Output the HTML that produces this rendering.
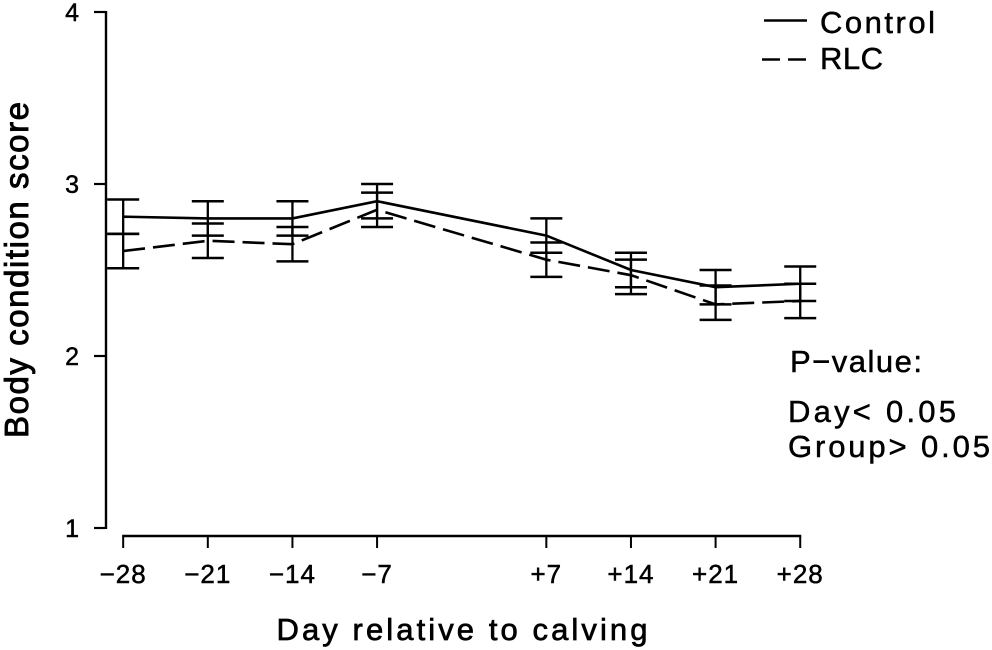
<!DOCTYPE html>
<html lang="en">
<head>
<meta charset="utf-8">
<title>Body condition score</title>
<style>
html,body{margin:0;padding:0;background:#fff;}
svg{display:block;}
text{font-family:"Liberation Sans",Arial,sans-serif;fill:#000;stroke:#000;stroke-width:0.5px;}
</style>
</head>
<body>
<svg id="chart" xmlns="http://www.w3.org/2000/svg" width="992" height="650" viewBox="0 0 992 650">
  <g id="axes"></g>
  <g id="marks"></g>
  <text transform="translate(28,270) rotate(-90)" text-anchor="middle" font-size="33" style="stroke-width:0.9px" textLength="336" lengthAdjust="spacing">Body condition score</text>
  <text x="462" y="640" text-anchor="middle" font-size="31" style="stroke-width:0.7px" textLength="371" lengthAdjust="spacing">Day relative to calving</text>
  <g>
    <line x1="764" y1="20.5" x2="807" y2="20.5" stroke="#000" stroke-width="2.4"/>
    <text x="820" y="33" font-size="31" textLength="115" lengthAdjust="spacing">Control</text>
    <line x1="762" y1="59.5" x2="806" y2="59.5" stroke="#000" stroke-width="2.4" stroke-dasharray="18 8"/>
    <text x="820" y="69" font-size="31" textLength="63" lengthAdjust="spacing">RLC</text>
  </g>
  <g>
    <text x="790" y="372" font-size="31" textLength="132" lengthAdjust="spacing">P−value:</text>
    <text x="788" y="422" font-size="31" textLength="168" lengthAdjust="spacing">Day&lt; 0.05</text>
    <text x="788" y="457" font-size="31" textLength="202" lengthAdjust="spacing">Group&gt; 0.05</text>
  </g>
</svg>
<script>
const days = [-28, -21, -14, -7, 7, 14, 21, 28];
const dayLabels = ["−28", "−21", "−14", "−7", "+7", "+14", "+21", "+28"];
const yTicks = [1, 2, 3, 4];
const controlValues = [2.81, 2.80, 2.80, 2.90, 2.70, 2.50, 2.40, 2.42];
const controlUpper = [2.91, 2.90, 2.90, 3.00, 2.80, 2.60, 2.50, 2.52];
const controlLower = [2.71, 2.70, 2.70, 2.80, 2.60, 2.40, 2.30, 2.32];
const rlcValues = [2.61, 2.67, 2.65, 2.85, 2.56, 2.47, 2.30, 2.32];
const rlcUpper = [2.71, 2.77, 2.75, 2.95, 2.66, 2.56, 2.41, 2.42];
const rlcLower = [2.51, 2.57, 2.55, 2.75, 2.46, 2.36, 2.21, 2.22];

const NS = "http://www.w3.org/2000/svg";
const COLOR = "#000";
function xScale(d) { return 461.7 + d * 12.09; }
function yScale(v) { return 528 - (v - 1) * 172; }
function makeLine(parent, x1, y1, x2, y2, w) {
  const l = document.createElementNS(NS, "line");
  l.setAttribute("x1", x1);
  l.setAttribute("y1", y1);
  l.setAttribute("x2", x2);
  l.setAttribute("y2", y2);
  l.setAttribute("stroke", COLOR);
  l.setAttribute("stroke-width", w);
  parent.appendChild(l);
  return l;
}
const axes = document.getElementById("axes");
const marks = document.getElementById("marks");

const yAxisLine = makeLine(axes, 106, yScale(4) - 1, 106, yScale(1) + 1, 2.4);


const xAxisLine = makeLine(axes, xScale(days[0]) - 1, 536, xScale(days[days.length - 1]) + 1, 536, 2.4);



yTicks.forEach(function (t) {
  const tick = makeLine(axes, 94, yScale(t), 106, yScale(t), 2.2);
  
  
  const label = document.createElementNS(NS, "text");
  
  
  label.setAttribute("x", 79);
  label.setAttribute("y", yScale(t) + 9);
  label.setAttribute("text-anchor", "end");
  label.setAttribute("font-size", "25");
  label.textContent = String(t);
  axes.appendChild(label);
});

days.forEach(function (d, i) {
  const x = xScale(d);
  const tick = makeLine(axes, x, 536, x, 548, 2);
  
  
  const label = document.createElementNS(NS, "text");
  
  
  label.setAttribute("x", x);
  label.setAttribute("y", 583);
  label.setAttribute("text-anchor", "middle");
  label.setAttribute("font-size", "26");
  label.setAttribute("letter-spacing", "1");
  label.textContent = dayLabels[i];
  axes.appendChild(label);
});

function drawErrorBars(upper, lower, prefix) {
  days.forEach(function (d, i) {
    const x = xScale(d);
    const stem = makeLine(marks, x, yScale(upper[i]), x, yScale(lower[i]), 2.3);
    
    
    const top = makeLine(marks, x - 16, yScale(upper[i]), x + 16, yScale(upper[i]), 2.5);
    
    
    const bottom = makeLine(marks, x - 16, yScale(lower[i]), x + 16, yScale(lower[i]), 2.5);
    
    
  });
}
function drawSeries(values, dash) {
  const p = document.createElementNS(NS, "polyline");
  p.setAttribute("points", days.map(function (d, i) { return xScale(d) + "," + yScale(values[i]); }).join(" "));
  p.setAttribute("fill", "none");
  p.setAttribute("stroke", COLOR);
  p.setAttribute("stroke-width", "2.6");
  if (dash) { p.setAttribute("stroke-dasharray", dash); }
  marks.appendChild(p);
  return p;
}
drawErrorBars(controlUpper, controlLower, "control");
drawErrorBars(rlcUpper, rlcLower, "rlc");
const controlLine = drawSeries(controlValues, null);


const rlcLine = drawSeries(rlcValues, "22 8");


</script>
</body>
</html>
